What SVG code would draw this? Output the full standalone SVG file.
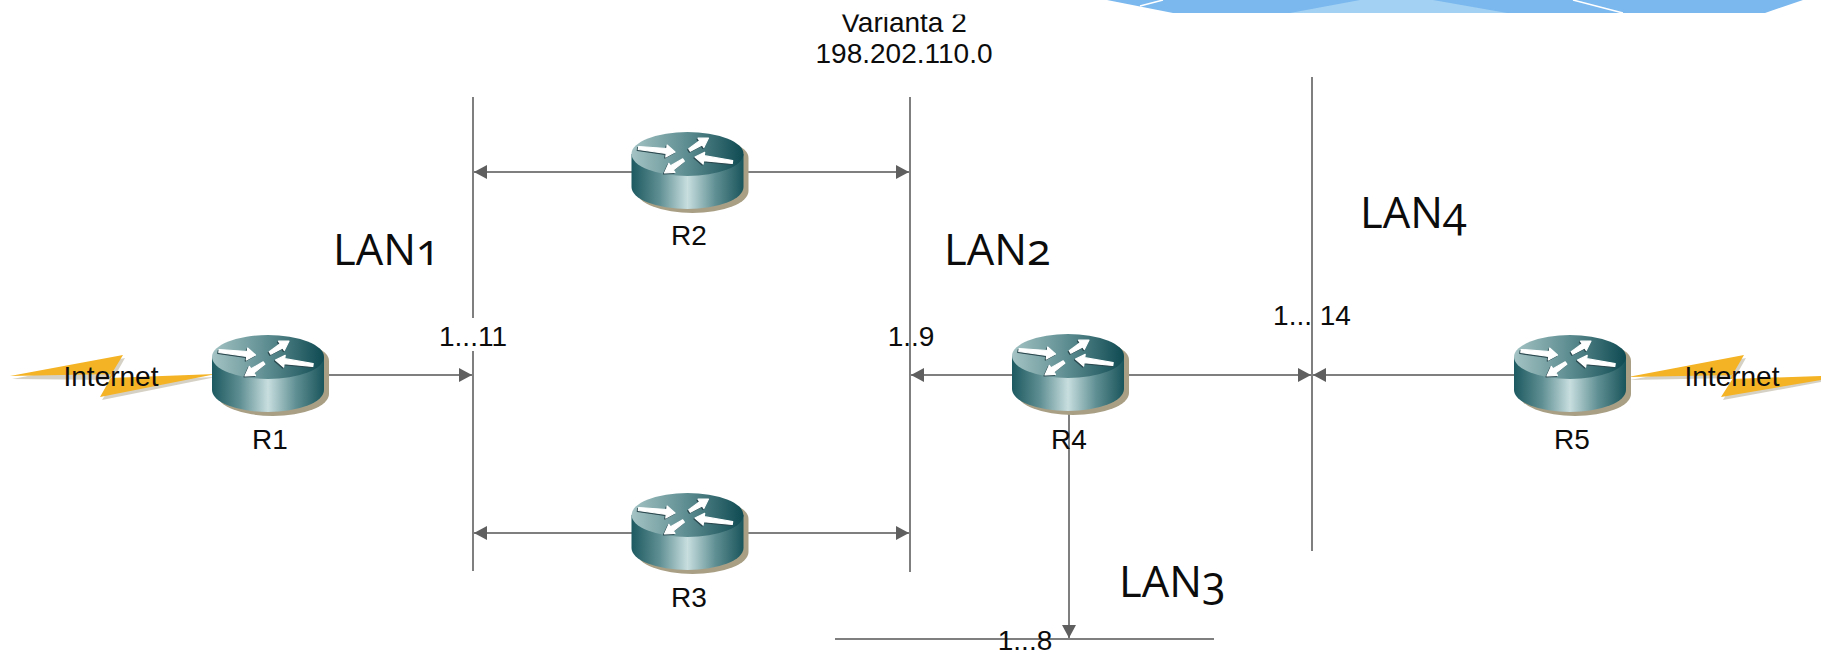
<svg xmlns="http://www.w3.org/2000/svg" xmlns:xlink="http://www.w3.org/1999/xlink" width="1821" height="653" viewBox="0 0 1821 653">
<style>
.t{font-family:"Liberation Sans",Arial,sans-serif;font-size:28px;fill:#0c0c0c;text-anchor:middle}
.lan{font-family:"Open Sans","Noto Sans",sans-serif;font-size:43.5px;fill:#0c0c0c;font-feature-settings:"onum"}
.bus{stroke:#7f7f7f;stroke-width:2;fill:none}
.link{stroke:#7f7f7f;stroke-width:2;fill:none}
.bolt{fill:#f4b324}
.bs{fill:#8a7a5a;opacity:.35}
</style>
<defs>
<linearGradient id="side" x1="0" x2="1" y1="0" y2="0">
<stop offset="0" stop-color="#1c5960"/><stop offset=".25" stop-color="#5f8f93"/><stop offset=".5" stop-color="#c8dedf"/><stop offset=".75" stop-color="#5f8f93"/><stop offset="1" stop-color="#1a555c"/>
</linearGradient>
<linearGradient id="top" x1="0" x2="1" y1="0" y2="0">
<stop offset="0" stop-color="#a4c3c4"/><stop offset=".5" stop-color="#5c8c90"/><stop offset="1" stop-color="#0f4a52"/>
</linearGradient>
<marker id="arr" markerUnits="userSpaceOnUse" markerWidth="14" markerHeight="14" refX="13" refY="7" orient="auto-start-reverse"><path d="M0 0L13 7L0 14Z" fill="#5f5f5f"/></marker>
<g id="arrows" stroke-width="1.2" stroke-linejoin="round">
<path d="M-48.8-7.5L-20.7-5.5L-20.4-9L-12.5-2L-21.7 3L-21.3-.5L-49.2-4.5Z"/>
<path d="M1.2-5.3L12.1-13.3L10.5-15.8L21-16L16.3-6.6L14.7-9.1L2.8-2.7Z"/>
<path d="M-4.8 4.8L-17 11.8L-18.7 9.4L-23 19L-12.5 18.4L-14.2 16L-3.2 7.2Z"/>
<path d="M45.2 6.5L16.7 1.7L17.2-1.7L7.5 3L15.6 10.1L16.1 6.7L44.8 9.5Z"/>
</g>
<g id="router">
<path d="M-51 4A56 22 0 0 1 61 4V37A56 22 0 0 1-51 37Z" fill="#a89f85"/>
<path d="M-56 0V33A56 22 0 0 0 56 33V0Z" fill="url(#side)"/>
<ellipse cx="0" cy="0" rx="56" ry="22" fill="url(#top)"/>
<use xlink:href="#arrows" href="#arrows" x="-1" y="1" fill="#2c4a50" stroke="#2c4a50"/>
<use xlink:href="#arrows" href="#arrows" fill="#fff" stroke="#fff"/>
</g>
<clipPath id="topclip"><rect x="780" y="14.5" width="240" height="60"/></clipPath>
</defs>
<rect width="1821" height="653" fill="#fff"/>
<g id="banner">
<path d="M1107 0L1173 13H1765L1803 0Z" fill="#7ab8ee"/>
<path d="M1290 13L1360 0H1433L1507 13Z" fill="#a3d1f3"/>
<path d="M1140 6L1163 0M1573 0L1623 13" stroke="#fff" stroke-width="1.5" fill="none"/>
</g>
<g id="connectors">
<path class="bus" d="M473 97V318M473 351V571"/>
<path class="bus" d="M910 97V572"/>
<path class="bus" d="M1312 77V551"/>
<path class="bus" d="M835 639H1214"/>
<path class="link" d="M687 172H474" marker-end="url(#arr)"/>
<path class="link" d="M687 172H909" marker-end="url(#arr)"/>
<path class="link" d="M687 533H474" marker-end="url(#arr)"/>
<path class="link" d="M687 533H909" marker-end="url(#arr)"/>
<path class="link" d="M268 375H472" marker-end="url(#arr)"/>
<path class="link" d="M1068 375H911" marker-end="url(#arr)"/>
<path class="link" d="M1068 375H1311" marker-end="url(#arr)"/>
<path class="link" d="M1570 375H1313" marker-end="url(#arr)"/>
<path class="link" d="M1069 400V638" marker-end="url(#arr)"/>
</g>
<g id="bolt-left">
<path class="bs" d="M12 379L125 358L112 381L216 377L102 400L115 380Z"/>
<path class="bolt" d="M10 376L123 355L109 378L216 374L100 397L113 374Z"/>
</g>
<g id="bolt-right">
<path class="bs" d="M1630 380L1746 358L1733 381L1821 380V382L1723 400L1736 378Z"/>
<path class="bolt" d="M1628 377L1744 355L1730 379L1821 376V380L1721 397L1735 375Z"/>
</g>
<g id="R1"><use xlink:href="#router" href="#router" x="268" y="357"/><text class="t" x="270" y="449">R1</text></g>
<g id="R2"><use xlink:href="#router" href="#router" x="687.5" y="154"/><text class="t" x="689" y="245">R2</text></g>
<g id="R3"><use xlink:href="#router" href="#router" x="687.5" y="515"/><text class="t" x="689" y="607">R3</text></g>
<g id="R4"><use xlink:href="#router" href="#router" x="1068" y="356"/><text class="t" x="1069" y="449">R4</text></g>
<g id="R5"><use xlink:href="#router" href="#router" x="1570" y="357"/><text class="t" x="1572" y="449">R5</text></g>
<g id="labels">
<text class="t" x="111" y="386">Internet</text>
<text class="t" x="1732" y="386">Internet</text>
<g clip-path="url(#topclip)"><text class="t" x="904" y="31.5">Varianta 2</text></g>
<text class="t" x="904" y="63">198.202.110.0</text>
<text class="t" x="473" y="346">1...11</text>
<text class="t" x="911" y="346">1..9</text>
<text class="t" x="1312" y="325" xml:space="preserve">1... 14</text>
<text class="t" x="1025" y="650">1...8</text>
<text class="lan" x="333" y="265">LAN1</text>
<text class="lan" x="944" y="265">LAN2</text>
<text class="lan" x="1360" y="228">LAN4</text>
<text class="lan" x="1119" y="597">LAN3</text>
</g>
</svg>
